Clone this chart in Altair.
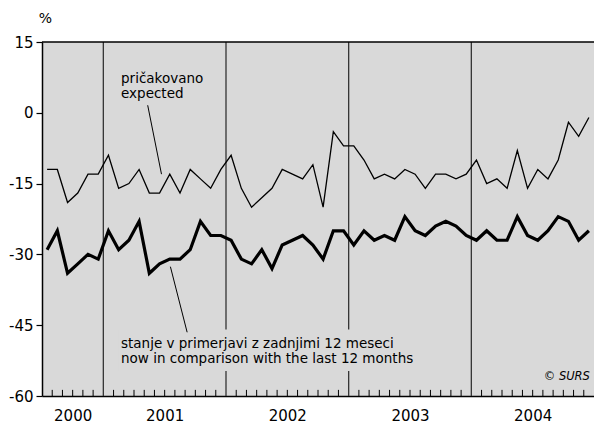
import altair as alt
import pandas as pd

# monthly values, July 2000 - December 2004
expected = [-12, -12, -19, -17, -13, -13,
            -9, -16, -15, -12, -17, -17, -13, -17, -12, -14, -16, -12,
            -9, -16, -20, -18, -16, -12, -13, -14, -11, -20, -4, -7,
            -7, -10, -14, -13, -14, -12, -13, -16, -13, -13, -14, -13,
            -10, -15, -14, -16, -8, -16, -12, -14, -10, -2, -5, -1]
now = [-29, -25, -34, -32, -30, -31,
       -25, -29, -27, -23, -34, -32, -31, -31, -29, -23, -26, -26,
       -27, -31, -32, -29, -33, -28, -27, -26, -28, -31, -25, -25,
       -28, -25, -27, -26, -27, -22, -25, -26, -24, -23, -24, -26,
       -27, -25, -27, -27, -22, -26, -27, -25, -22, -23, -27, -25]
years = [2000, 2001, 2002, 2003, 2004]
y_ticks = [15, 0, -15, -30, -45, -60]

n = len(expected)
df = pd.DataFrame({"m": [i + 0.5 for i in range(n)], "expected": expected, "now": now})
year_starts = [6 + 12 * k for k in range(len(years) - 1)]
year_mid = [3] + [s + 6 for s in year_starts]
minor = pd.DataFrame({"m": [k for k in range(1, n) if k not in year_starts]})
minor["y0"] = -60
minor["y1"] = -58.7
seps = pd.DataFrame({"m": year_starts})

FONT = "DejaVu Sans"
BG = "#d9d9d9"

xs = alt.Scale(domain=[0, n], nice=False, zero=False)
ys = alt.Scale(domain=[-60, 15], nice=False, zero=False)
xaxis = alt.Axis(values=year_mid, labelExpr="2000 + floor((datum.value + 6) / 12)",
                 title=None, grid=False, ticks=False, domainColor="black", domainWidth=1.5,
                 labelFont=FONT, labelFontSize=15, labelColor="black", labelPadding=12,
                 labelFlush=False)
yaxis = alt.Axis(values=y_ticks, labelExpr="datum.value + ''", title="%", titleAngle=0,
                 titleAlign="center", titleBaseline="alphabetic", titleX=3, titleY=-20,
                 titleFont=FONT, titleFontSize=14, titleFontWeight="normal", titleColor="black",
                 grid=False, tickSize=6, tickColor="black", tickWidth=1.2,
                 domainColor="black", domainWidth=1.5, labelFont=FONT, labelFontSize=15,
                 labelColor="black", labelPadding=3)


def X(f, **kw):
    return alt.X(f, type="quantitative", scale=xs, axis=xaxis, **kw)


def Y(f, **kw):
    return alt.Y(f, type="quantitative", scale=ys, axis=yaxis, **kw)


sep_layer = alt.Chart(seps).mark_rule(color="#333333", strokeWidth=1.3).encode(x=X("m"))

knock = alt.Chart(pd.DataFrame({"x0": [7.44], "x1": [35.5], "y0": [-45.9], "y1": [-54.7]})).mark_rect(
    color=BG).encode(x=X("x0"), x2="x1", y=Y("y0"), y2="y1")

minor_layer = alt.Chart(minor).mark_rule(color="black", strokeWidth=1).encode(
    x=X("m"), y=Y("y0"), y2="y1")

top_border = alt.Chart(pd.DataFrame({"x0": [0], "x1": [n], "y": [15]})).mark_rule(
    color="black", strokeWidth=1.5).encode(x=X("x0"), x2="x1", y=Y("y"))

line_exp = alt.Chart(df).mark_line(color="black", strokeWidth=1.3).encode(x=X("m"), y=Y("expected"))
line_now = alt.Chart(df).mark_line(color="black", strokeWidth=3.2).encode(x=X("m"), y=Y("now"))

pointers = alt.Chart(pd.DataFrame({
    "x0": [10.34, 12.56], "x1": [11.69, 14.2], "y0": [1.6, -32.6], "y1": [-13.0, -46.5]
})).mark_rule(color="black", strokeWidth=1).encode(x=X("x0"), x2="x1", y=Y("y0"), y2="y1")

labels = pd.DataFrame({
    "x": [7.73, 7.73, 7.73, 7.73],
    "y": [6.3, 3.1, -49.9, -53.1],
    "t": ["pričakovano", "expected",
          "stanje v primerjavi z zadnjimi 12 meseci",
          "now in comparison with the last 12 months"],
})
txt = alt.Chart(labels).mark_text(
    align="left", baseline="alphabetic", font=FONT, fontSize=13.5, color="black"
).encode(x=X("x"), y=Y("y"), text="t:N")

surs = alt.Chart(pd.DataFrame({"x": [53.6], "y": [-56.6]})).mark_text(
    text="© SURS", align="right", baseline="alphabetic", font=FONT, fontSize=11.5,
    fontStyle="italic", color="black").encode(x=X("x"), y=Y("y"))

chart = alt.layer(sep_layer, knock, minor_layer, line_exp, line_now, pointers,
                  txt, surs, top_border).properties(
    width=552, height=354,
    autosize=alt.AutoSizeParams(type="none"),
    padding={"left": 34, "top": 34, "right": 0, "bottom": 28},
    background="white",
).configure_view(stroke=None, fill=BG)

chart.save("out.html", embed_options={"renderer": "svg", "actions": False})
